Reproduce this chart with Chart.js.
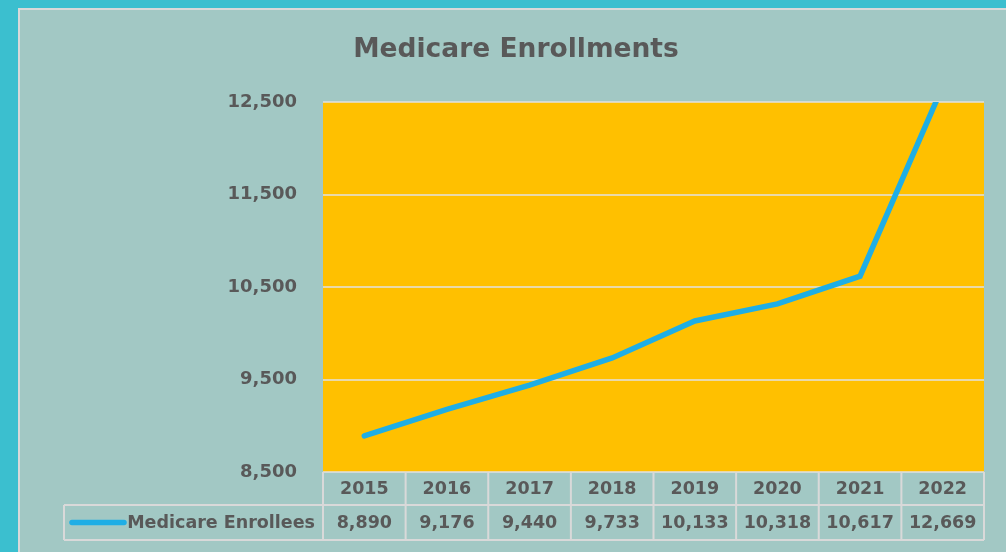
<!DOCTYPE html>
<html><head><meta charset="utf-8">
<script src="https://cdn.jsdelivr.net/npm/chart.js@4/dist/chart.umd.min.js"></script>
<style>html,body{margin:0;padding:0;background:#3BBFCF;}#wrap{width:1006px;height:552px;position:relative;}</style>
</head><body><div id="wrap"><canvas id="c"></canvas></div>
<script>
const titleText = 'Medicare Enrollments';
const seriesName = 'Medicare Enrollees';
const years = ['2015','2016','2017','2018','2019','2020','2021','2022'];
const enrollees = [8890, 9176, 9440, 9733, 10133, 10318, 10617, 12669];
const yMin = 8500, yMax = 12500, yStep = 1000;

const FONT = '"DejaVu Sans", sans-serif';
const TXT = '#595959';
const fmt = v => Number(v).toLocaleString('en-US');

const decor = {
  id: 'decor',
  beforeDraw(chart) {
    const {ctx, chartArea: a, width: W, height: H} = chart;
    ctx.save();
    ctx.fillStyle = '#3BBFCF'; ctx.fillRect(0, 0, W, H);
    ctx.fillStyle = '#A2C8C4'; ctx.fillRect(18, 8, W, H);
    ctx.strokeStyle = '#D9D9D9'; ctx.lineWidth = 2; ctx.strokeRect(19, 9, W + 10, H + 10);
    ctx.fillStyle = '#FFC000'; ctx.fillRect(a.left, a.top, a.right - a.left, a.bottom - a.top);
    ctx.fillStyle = TXT; ctx.font = 'bold 26.5px ' + FONT;
    ctx.textAlign = 'center'; ctx.textBaseline = 'middle';
    ctx.fillText(titleText, 516, 50);
    ctx.restore();
  },
  afterDraw(chart) {
    const {ctx, chartArea: a} = chart;
    const n = years.length, cw = (a.right - a.left) / n;
    const r0 = a.bottom, r1 = a.bottom + 33, r2 = a.bottom + 68;
    ctx.save();
    ctx.strokeStyle = '#D9D9D9'; ctx.lineWidth = 2;
    ctx.beginPath();
    for (let i = 0; i <= n; i++) {
      const x = a.left + i * cw;
      ctx.moveTo(x, r0); ctx.lineTo(x, r2);
    }
    ctx.moveTo(a.left, r1); ctx.lineTo(a.right, r1);
    ctx.moveTo(64, r2); ctx.lineTo(a.right, r2);
    ctx.moveTo(64, r1); ctx.lineTo(a.left, r1);
    ctx.moveTo(64, r1); ctx.lineTo(64, r2);
    ctx.stroke();
    const xs = chart.scales.x;
    ctx.fillStyle = TXT; ctx.font = 'bold 17.5px ' + FONT;
    ctx.textAlign = 'center'; ctx.textBaseline = 'middle';
    years.forEach((y, i) => {
      const x = xs.getPixelForValue(i);
      ctx.fillText(y, x, (r0 + r1) / 2 + 1);
      ctx.fillText(fmt(enrollees[i]), x, (r1 + r2) / 2 + 1);
    });
    ctx.textAlign = 'right';
    ctx.fillText(seriesName, a.left - 8, (r1 + r2) / 2 + 1);
    const ds = chart.data.datasets[0];
    ctx.strokeStyle = ds.borderColor; ctx.lineWidth = 5.5; ctx.lineCap = 'round';
    ctx.beginPath(); ctx.moveTo(72, (r1 + r2) / 2); ctx.lineTo(124, (r1 + r2) / 2); ctx.stroke();
    ctx.restore();
  }
};

new Chart(document.getElementById('c'), {
  type: 'line',
  data: {
    labels: years,
    datasets: [{
      label: seriesName,
      data: enrollees,
      borderColor: '#1FAEE5',
      borderWidth: 5.5,
      pointRadius: 0,
      tension: 0,
      borderCapStyle: 'round',
      clip: 0
    }]
  },
  options: {
    responsive: true,
    maintainAspectRatio: false,
    animation: false,
    layout: {padding: {top: 102, right: 22, bottom: 80, left: 0}},
    plugins: {legend: {display: false}, title: {display: false}, tooltip: {enabled: false}},
    scales: {
      x: {display: false, offset: true},
      y: {
        min: yMin, max: yMax,
        afterFit: s => { s.width = 323; },
        border: {display: false},
        grid: {color: 'rgba(225,225,225,0.75)', lineWidth: 2, drawTicks: false},
        ticks: {stepSize: yStep, padding: 26, color: TXT, font: {family: FONT, size: 18, weight: 'bold'}, callback: v => fmt(v)}
      }
    }
  },
  plugins: [decor]
});
</script></body></html>
